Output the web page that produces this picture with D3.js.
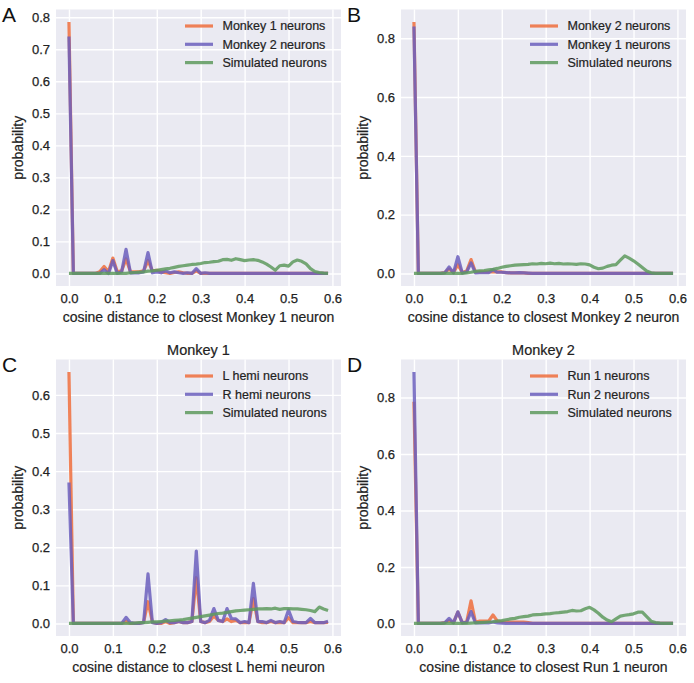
<!DOCTYPE html>
<html><head><meta charset="utf-8">
<script src="https://cdn.jsdelivr.net/npm/d3@7"></script>
<style>
body{margin:0;background:#fff}
svg{display:block;font-family:"Liberation Sans",Arial,Helvetica,sans-serif}
</style>
</head><body>
<svg id="c" width="694" height="683"></svg>
<script>
// ---------- data ----------
const distances = [0.00,0.01,0.02,0.03,0.04,0.05,0.06,0.07,0.08,0.09,
  0.10,0.11,0.12,0.13,0.14,0.15,0.16,0.17,0.18,0.19,
  0.20,0.21,0.22,0.23,0.24,0.25,0.26,0.27,0.28,0.29,
  0.30,0.31,0.32,0.33,0.34,0.35,0.36,0.37,0.38,0.39,
  0.40,0.41,0.42,0.43,0.44,0.45,0.46,0.47,0.48,0.49,
  0.50,0.51,0.52,0.53,0.54,0.55,0.56,0.57,0.58,0.59];
const xTickValues = [0.0,0.1,0.2,0.3,0.4,0.5,0.6];

// Panel A
const A_monkey1 = [0.785,0,0,0,0,0,0,0.005,0.022,0.005,
  0.048,0.005,0.008,0.045,0.005,0.005,0.005,0.008,0.040,0.008,
  0.010,0.005,0.002,0,0.003,0.005,0.002,0,0,0.008,
  0,0,0,0,0,0,0,0,0,0, 0,0,0,0,0,0,0,0,0,0, 0,0,0,0,0,0,0,0,0,0];
const A_monkey2 = [0.740,0,0,0,0,0,0,0,0.012,0,
  0.040,0,0.005,0.075,0.002,0.002,0.002,0.005,0.065,0.002,
  0.005,0.002,0.008,0.002,0.005,0.002,0,0.002,0,0.015,
  0,0.002,0,0,0,0,0,0,0,0, 0,0,0,0,0,0,0,0,0,0, 0,0,0,0,0,0,0,0,0,0];
const A_simulated = [0,0,0,0,0,0,0,0,0,0,
  0,0,0,0,0.002,0.003,0.004,0.005,0.007,0.008,
  0.010,0.012,0.014,0.016,0.019,0.022,0.024,0.026,0.028,0.029,
  0.031,0.034,0.035,0.037,0.038,0.043,0.044,0.041,0.046,0.043,
  0.040,0.042,0.043,0.041,0.036,0.029,0.020,0.010,0.024,0.026,
  0.023,0.036,0.042,0.038,0.030,0.015,0.006,0.003,0.001,0];
const A_names = ["Monkey 1 neurons","Monkey 2 neurons","Simulated neurons"];
const A_yTicks = [0.0,0.1,0.2,0.3,0.4,0.5,0.6,0.7,0.8];
const A_xLabel = "cosine distance to closest Monkey 1 neuron";

// Panel B
const B_monkey2 = [0.855,0,0,0,0,0,0,0.003,0.015,0.003,
  0.030,0.003,0.008,0.047,0.005,0.005,0.005,0.005,0.005,0.005,
  0.005,0.003,0.002,0.002,0.002,0.002,0,0,0,0,
  0,0,0,0,0,0,0,0,0,0, 0,0,0,0,0,0,0,0,0,0, 0,0,0,0,0,0,0,0,0,0];
const B_monkey1 = [0.840,0,0,0,0,0,0,0.002,0.022,0.002,
  0.057,0.002,0.005,0.036,0.002,0.003,0.003,0.003,0.013,0.004,
  0.004,0.003,0.002,0.002,0.003,0.002,0.001,0,0,0,
  0,0,0,0,0,0,0,0,0,0, 0,0,0,0,0,0,0,0,0,0, 0,0,0,0,0,0,0,0,0,0];
const B_simulated = [0,0,0,0,0,0,0,0,0,0,
  0,0,0.002,0.004,0.007,0.009,0.010,0.012,0.014,0.017,
  0.021,0.024,0.026,0.028,0.029,0.030,0.031,0.033,0.032,0.034,
  0.033,0.035,0.033,0.034,0.032,0.033,0.032,0.031,0.033,0.032,
  0.029,0.021,0.016,0.018,0.024,0.028,0.030,0.045,0.060,0.052,
  0.043,0.032,0.020,0.008,0.002,0,0,0,0,0];
const B_names = ["Monkey 2 neurons","Monkey 1 neurons","Simulated neurons"];
const B_yTicks = [0.0,0.2,0.4,0.6,0.8];
const B_xLabel = "cosine distance to closest Monkey 2 neuron";

// Panel C
const C_lHemi = [0.660,0,0,0,0,0,0,0,0,0,
  0,0,0,0.005,0,0,0,0.003,0.057,0.003,
  0,0,0.005,0,0.002,0.005,0.002,0.002,0.005,0.120,
  0.005,0.002,0.005,0.020,0.008,0.005,0.012,0.005,0.008,0.002,
  0.002,0.002,0.065,0.005,0.002,0.002,0.005,0.002,0.003,0.002,
  0.015,0.002,0.002,0.002,0.002,0.005,0.002,0.002,0.002,0.003];
const C_rHemi = [0.370,0,0,0,0,0,0,0,0,0,
  0,0,0,0.016,0.002,0,0,0.002,0.130,0.002,
  0,0.002,0.010,0.002,0.002,0.005,0.002,0.002,0.005,0.190,
  0.005,0.002,0.008,0.039,0.008,0.005,0.039,0.013,0.012,0.002,
  0.005,0.002,0.105,0.005,0.005,0.002,0.008,0.002,0.005,0.002,
  0.035,0.005,0.003,0.002,0.002,0.013,0.002,0.002,0.002,0.006];
const C_simulated = [0,0,0,0,0,0,0,0,0,0,
  0,0,0,0,0,0.001,0.002,0.002,0.003,0.004,
  0.004,0.005,0.006,0.007,0.008,0.009,0.010,0.012,0.014,0.016,
  0.018,0.020,0.022,0.024,0.026,0.027,0.029,0.031,0.033,0.034,
  0.035,0.036,0.037,0.038,0.038,0.039,0.038,0.040,0.037,0.039,
  0.039,0.038,0.038,0.037,0.036,0.034,0.031,0.043,0.038,0.034];
const C_names = ["L hemi neurons","R hemi neurons","Simulated neurons"];
const C_yTicks = [0.0,0.1,0.2,0.3,0.4,0.5,0.6];
const C_xLabel = "cosine distance to closest L hemi neuron";
const C_title = "Monkey 1";

// Panel D
const D_run1 = [0.785,0,0,0,0,0,0,0.003,0.010,0.003,
  0.040,0.003,0.005,0.080,0.005,0.008,0.008,0.008,0.030,0.008,
  0.005,0.005,0.005,0.005,0.005,0.005,0.003,0,0,0,
  0,0,0,0,0,0,0,0,0,0, 0,0,0,0,0,0,0,0,0,0, 0,0,0,0,0,0,0,0,0,0];
const D_run2 = [0.890,0,0,0,0,0,0,0.002,0.018,0.002,
  0.041,0.002,0.004,0.042,0.002,0.002,0.002,0.002,0.005,0.002,
  0.001,0,0,0,0,0,0,0,0,0,
  0,0,0,0,0,0,0,0,0,0, 0,0,0,0,0,0,0,0,0,0, 0,0,0,0,0,0,0,0,0,0];
const D_simulated = [0,0,0,0,0,0,0,0,0,0,
  0,0,0,0.001,0.002,0.003,0.004,0.005,0.006,0.008,
  0.010,0.013,0.016,0.018,0.022,0.024,0.026,0.030,0.031,0.032,
  0.034,0.035,0.037,0.038,0.040,0.042,0.046,0.044,0.045,0.052,
  0.057,0.048,0.036,0.022,0.012,0.006,0.016,0.026,0.029,0.031,
  0.034,0.040,0.040,0.024,0.008,0.003,0.001,0,0,0];
const D_names = ["Run 1 neurons","Run 2 neurons","Simulated neurons"];
const D_yTicks = [0.0,0.2,0.4,0.6,0.8];
const D_xLabel = "cosine distance to closest Run 1 neuron";
const D_title = "Monkey 2";

const yLabel = "probability";

// ---------- drawing ----------
const COLORS = ["#ef6d3c", "#6b5fbd", "#5e9a5e"];
const TEXT = "#222";
const W = 285, H = 276.5;

const panels = [
  {letter:"A", title:null,    xlabel:A_xLabel, names:A_names, series:[A_monkey1,A_monkey2,A_simulated], yticks:A_yTicks, left:56,  top:9.5},
  {letter:"B", title:null,    xlabel:B_xLabel, names:B_names, series:[B_monkey2,B_monkey1,B_simulated], yticks:B_yTicks, left:401, top:9.5},
  {letter:"C", title:C_title, xlabel:C_xLabel, names:C_names, series:[C_lHemi,C_rHemi,C_simulated],     yticks:C_yTicks, left:56,  top:359.5},
  {letter:"D", title:D_title, xlabel:D_xLabel, names:D_names, series:[D_run1,D_run2,D_simulated],       yticks:D_yTicks, left:401, top:359.5}
];

const svg = d3.select("#c");

function heavy(sel, w) {
  return sel.attr("stroke", TEXT).attr("stroke-width", w).attr("paint-order", "stroke");
}

panels.forEach(p => {
  const x0 = p.left, x1 = p.left + W, y0 = p.top, y1 = p.top + H;
  const xmin = d3.min(distances), xmax = d3.max(distances);
  const xm = (xmax - xmin) * 0.05;
  const x = d3.scaleLinear().domain([xmin - xm, xmax + xm]).range([x0, x1]);
  const ymax = d3.max(p.series.flat());
  const y = d3.scaleLinear().domain([-0.05 * ymax, 1.05 * ymax]).range([y1, y0]);

  const g = svg.append("g");
  g.append("rect").attr("x", x0).attr("y", y0).attr("width", W).attr("height", H).attr("fill", "#eaeaf2");

  // grid
  const gx = g.append("g").attr("transform", `translate(0,${y1})`)
    .call(d3.axisBottom(x).tickValues(xTickValues).tickSize(-H).tickFormat(""));
  const gy = g.append("g").attr("transform", `translate(${x0},0)`)
    .call(d3.axisLeft(y).tickValues(p.yticks).tickSize(-W).tickFormat(""));
  [gx, gy].forEach(a => {
    a.select(".domain").remove();
    a.selectAll("line").attr("stroke", "#fff").attr("stroke-width", 1.4);
  });

  // tick labels
  const lx = g.append("g").attr("transform", `translate(0,${y1})`)
    .call(d3.axisBottom(x).tickValues(xTickValues).tickSize(0).tickPadding(8).tickFormat(d3.format(".1f")));
  const ly = g.append("g").attr("transform", `translate(${x0},0)`)
    .call(d3.axisLeft(y).tickValues(p.yticks).tickSize(0).tickPadding(6).tickFormat(d3.format(".1f")));
  [lx, ly].forEach(a => {
    a.select(".domain").remove();
    const t = a.selectAll("text").attr("fill", TEXT).style("font-size", "13px")
      .style("font-family", "'Liberation Sans',Arial,sans-serif");
    heavy(t, 0.25);
  });

  // lines
  const line = d3.line().x((d, i) => x(distances[i])).y(d => y(d));
  p.series.forEach((s, k) => {
    g.append("path").datum(s).attr("d", line)
      .attr("fill", "none").attr("stroke", COLORS[k]).attr("stroke-width", 3.2)
      .attr("stroke-linejoin", "round").attr("stroke-opacity", 0.85);
  });

  // legend
  p.names.forEach((n, k) => {
    const ly0 = y0 + 16.5 + k * 18.3;
    g.append("line").attr("x1", x1 - 156).attr("x2", x1 - 128).attr("y1", ly0).attr("y2", ly0)
      .attr("stroke", COLORS[k]).attr("stroke-width", 3.2).attr("stroke-opacity", 0.85);
    heavy(g.append("text").attr("x", x1 - 118.5).attr("y", ly0).attr("dy", "0.35em")
      .attr("fill", TEXT).style("font-size", "12.5px").text(n), 0.2);
  });

  // axis labels
  heavy(g.append("text").attr("x", (x0 + x1) / 2).attr("y", y1 + 36).attr("text-anchor", "middle")
    .attr("fill", TEXT).style("font-size", "14px").text(p.xlabel), 0.2);
  heavy(g.append("text").attr("transform", `translate(${x0 - 33},${(y0 + y1) / 2}) rotate(-90)`)
    .attr("text-anchor", "middle").attr("fill", TEXT).style("font-size", "14px").text(yLabel), 0.2);

  if (p.title) {
    heavy(g.append("text").attr("x", (x0 + x1) / 2).attr("y", y0 - 5).attr("text-anchor", "middle")
      .attr("fill", TEXT).style("font-size", "14.5px").text(p.title), 0.2);
  }
  g.append("text").attr("x", x0 - 54).attr("y", y0 + 12.5)
    .attr("fill", "#111").style("font-size", "21px").text(p.letter);
});
</script>
</body></html>
